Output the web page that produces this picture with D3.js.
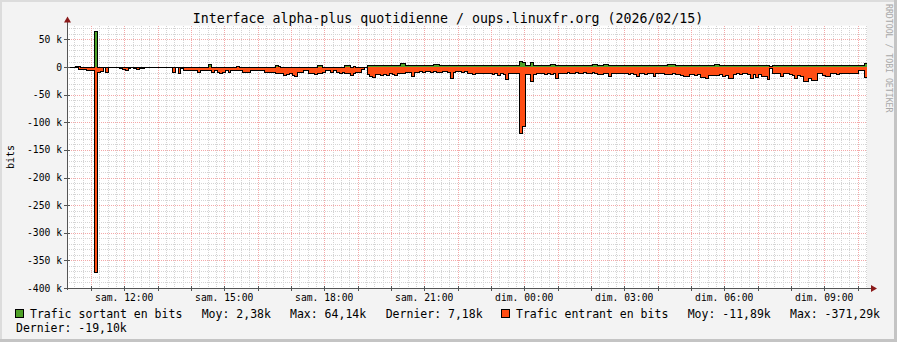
<!DOCTYPE html>
<html><head><meta charset="utf-8">
<script src="https://cdn.jsdelivr.net/npm/d3@7"></script>
<style>body{margin:0;background:#f3f3f3}svg{display:block}</style>
</head><body><svg id="c" width="897" height="342"></svg>
<script>
const title = "Interface alpha-plus quotidienne / oups.linuxfr.org (2026/02/15)";
const yAxisTitle = "bits";
const watermark = "RRDTOOL / TOBI OETIKER";
const startTime = new Date(2026, 1, 14, 10, 17, 0);
const endTime = new Date(2026, 1, 15, 10, 17, 0);
const stepMinutes = 5;
// values in kbit/s, one per 5-minute step
const outValues = [
 0,0,0,1.5,0.5,0,0,0,0,0,64.14,0,
 0,0,0,0,0,0,0,0,0,0,0,0,
 0,0,0,0,0,0,0,0,0,0,0,0,
 0,0,0,0,0,0,0,0,0,0,0,0,
 0,0,0,5,0,0,0,0,0,0,0,0,
 0,1,0,0,0,0,0,0,0,0,0,0,
 0,0,0,2,1,0,0,0,0,0,0,0,
 0,0,0,0,0,0,2,2,0,0,0,0,
 0,0,0,0,3,3,0,1,0,0,0,0,
 2.5,2.5,2,2.5,2.5,3,2.5,2.5,2.5,2.5,2.5,2.5,
 6,7,2.5,2.5,2.5,2.5,2.5,2.5,2.5,2.5,2.5,2.5,
 4,4,2.5,2.5,2.5,3.5,3.5,2.5,2.5,2.5,2.5,2.5,
 2.5,2.5,2.5,2.5,2.5,2.5,2.5,2.5,2.5,2.5,2.5,2.5,
 2.5,2.5,2.5,2.5,3.5,3.5,3.5,10,9,2.5,2.5,8,
 2.5,2.5,2.5,2.5,2.5,2.5,4.5,4.5,2.5,2.5,2.5,2.5,
 2.5,2.5,2.5,2.5,2.5,2.5,2.5,2.5,2.5,4.5,4.5,2.5,
 2.5,4.5,4.5,2.5,2.5,2.5,2.5,2.5,2.5,2.5,2.5,2.5,
 2.5,2.5,2.5,2.5,2.5,2.5,2.5,2.5,2.5,2.5,3,2.5,
 4,4,4,2.5,2.5,2.5,2.5,2.5,2.5,2.5,2.5,2.5,
 2.5,2.5,2.5,2.5,2.5,4,4,2.5,2.5,2.5,2.5,2.5,
 2.5,2.5,2.5,2.5,2.5,2.5,2.5,2.5,2.5,2.5,2.5,2.5,
 2.5,1,2.5,2.5,2.5,2.5,2.5,2.5,2.5,2.5,2.5,2.5,
 2.5,2.5,2.5,2.5,2.5,2.5,2.5,2.5,2.5,2.5,2.5,2.5,
 2.5,2.5,2.5,2.5,2.5,2.5,2.5,2.5,2.5,2.5,2.5,7.18
];
const inValues = [
 0,-0.5,0,-1.5,-4,-5,-5,-6,-7,-7,-371.29,-9,
 -8,0,-9,0,0,0,0,-3,-4,-6,-3,0,
 -2,-4,-2,-2,-1,0,0,-1,0,0,0,-1,
 -1,-1,-10,-1,-12,-3,-6,-6,-6,-7,-6,-9,
 -6,-7,-7,-7,-9,-7,-10,-12,-9,-7,-9,-6,
 -6,-6,-6,-9,-9,-10,-7,-6,-6,-6,-7,-10,
 -10,-10,-10,-11,-12,-12,-15,-14,-11,-16,-18,-10,
 -10,-6,-6,-12,-12,-14,-12,-11,-9,-7,-7,-9,
 -7,-9,-11,-10,-11,-11,-16,-11,-9,-10,-4,-1,
 -14,-17,-19,-13,-13,-15,-13,-16,-12,-13,-15,-12,
 -12,-11,-10,-9,-17,-10,-9,-8,-9,-8,-8,-9,
 -8,-9,-10,-8,-8,-9,-20,-9,-8,-8,-9,-8,
 -11,-12,-14,-12,-11,-11,-12,-11,-12,-14,-12,-15,
 -12,-13,-23,-12,-12,-12,-11,-120,-108,-14,-13,-27,
 -13,-12,-12,-11,-13,-12,-14,-12,-21,-11,-11,-12,
 -10,-11,-12,-10,-11,-12,-10,-11,-12,-10,-12,-14,
 -14,-12,-11,-17,-12,-11,-12,-11,-12,-11,-13,-12,
 -13,-18,-12,-11,-13,-12,-12,-17,-12,-11,-12,-13,
 -14,-13,-12,-13,-14,-15,-18,-18,-14,-13,-15,-14,
 -19,-19,-20,-16,-15,-16,-16,-14,-17,-16,-20,-20,
 -13,-12,-13,-12,-12,-13,-20,-13,-19,-14,-18,-17,
 -23,-3,-11,-11,-12,-17,-12,-11,-14,-16,-20,-15,
 -18,-27,-27,-20,-25,-25,-11,-11,-16,-17,-17,-12,
 -12,-13,-11,-12,-12,-11,-11,-12,-11,-7,-7,-19.1
];
const yTicks = [50, 0, -50, -100, -150, -200, -250, -300, -350, -400];
const yTickLabels = ["50 k", "0", "-50 k", "-100 k", "-150 k", "-200 k", "-250 k", "-300 k", "-350 k", "-400 k"];
const xTickTimes = [
 new Date(2026,1,14,12), new Date(2026,1,14,15), new Date(2026,1,14,18), new Date(2026,1,14,21),
 new Date(2026,1,15,0), new Date(2026,1,15,3), new Date(2026,1,15,6), new Date(2026,1,15,9)];
const xTickLabels = ["sam. 12:00", "sam. 15:00", "sam. 18:00", "sam. 21:00", "dim. 00:00", "dim. 03:00", "dim. 06:00", "dim. 09:00"];
const seriesNames = ["Trafic sortant en bits", "Trafic entrant en bits"];
const seriesColors = ["#4fa128", "#ff4d14"];
const seriesStats = [["Moy: 2,38k", "Max: 64,14k", "Dernier: 7,18k"], ["Moy: -11,89k", "Max: -371,29k", "Dernier: -19,10k"]];

const W = 897, H = 342;
const L = 67, R = 867, T = 25.6, B = 288;
const svg = d3.select("#c");
const FONT = "DejaVu Sans Mono";

// background and borders
svg.append("rect").attr("width", W).attr("height", H).attr("fill", "#f3f3f3");
svg.append("rect").attr("x", 0).attr("y", 0).attr("width", W).attr("height", 2).attr("fill", "#dcdcdc");
svg.append("rect").attr("x", 0).attr("y", 0).attr("width", 2).attr("height", H).attr("fill", "#dcdcdc");
svg.append("rect").attr("x", 0).attr("y", H - 3).attr("width", W).attr("height", 3).attr("fill", "#c4c4c4");
svg.append("rect").attr("x", W - 3).attr("y", 0).attr("width", 3).attr("height", H).attr("fill", "#c4c4c4");

const x = d3.scaleTime().domain([startTime, endTime]).range([L, R]);
const y = d3.scaleLinear().domain([-400, 75]).range([B, T]);

svg.append("rect").attr("x", L).attr("y", T).attr("width", R - L).attr("height", B - T).attr("fill", "#ffffff");

const g = svg.append("g").attr("shape-rendering", "crispEdges");
// minor grid
const minorY = d3.range(-400, 71, 10).filter(v => v % 50 !== 0);
g.selectAll(".hmin").data(minorY).enter().append("line")
  .attr("x1", L).attr("x2", R).attr("y1", d => Math.round(y(d)) + 0.5).attr("y2", d => Math.round(y(d)) + 0.5)
  .attr("stroke", "#d4d4d4").attr("stroke-dasharray", "1,1");
const minorX = d3.timeMinute.every(15).range(startTime, endTime).filter(d => d.getMinutes() !== 0);
g.selectAll(".vmin").data(minorX).enter().append("line")
  .attr("y1", T).attr("y2", B).attr("x1", d => Math.round(x(d)) + 0.5).attr("x2", d => Math.round(x(d)) + 0.5)
  .attr("stroke", "#d4d4d4").attr("stroke-dasharray", "1,1");
// major grid
const majorX = d3.timeHour.every(1).range(startTime, endTime);
g.selectAll(".vmaj").data(majorX).enter().append("line")
  .attr("y1", T).attr("y2", B + 2).attr("x1", d => Math.round(x(d)) + 0.5).attr("x2", d => Math.round(x(d)) + 0.5)
  .attr("stroke", "#f4a8a8").attr("stroke-dasharray", "1,1");
g.selectAll(".hmaj").data(yTicks).enter().append("line")
  .attr("x1", L - 2).attr("x2", R).attr("y1", d => Math.round(y(d)) + 0.5).attr("y2", d => Math.round(y(d)) + 0.5)
  .attr("stroke", "#f4a8a8").attr("stroke-dasharray", "1,1");

// data
const times = outValues.map((_, i) => new Date(+startTime + i * stepMinutes * 60000));
function pts(vals) {
  const p = vals.map((v, i) => [times[i], v]);
  p.push([endTime, vals[vals.length - 1]]);
  return p;
}
const area = d3.area().curve(d3.curveStepAfter).x(d => x(d[0])).y0(y(0)).y1(d => y(d[1]));
const line = d3.line().curve(d3.curveStepAfter).x(d => x(d[0])).y(d => y(d[1]));
const dg = svg.append("g").attr("shape-rendering", "crispEdges");
dg.append("path").attr("d", area(pts(outValues))).attr("fill", seriesColors[0]);
dg.append("path").attr("d", area(pts(inValues))).attr("fill", seriesColors[1]);
dg.append("path").attr("d", line(pts(outValues))).attr("fill", "none").attr("stroke", "#000").attr("stroke-width", 1);
dg.append("path").attr("d", line(pts(inValues))).attr("fill", "none").attr("stroke", "#000").attr("stroke-width", 1);

// axes
const ax = svg.append("g").attr("shape-rendering", "crispEdges");
ax.append("line").attr("x1", L + 0.5).attr("x2", L + 0.5).attr("y1", B + 2).attr("y2", T - 4).attr("stroke", "#555");
ax.append("line").attr("x1", L - 2).attr("x2", R + 4).attr("y1", B + 0.5).attr("y2", B + 0.5).attr("stroke", "#555");
ax.selectAll(".yt").data(yTicks).enter().append("line")
  .attr("x1", L - 3).attr("x2", L + 3).attr("y1", d => Math.round(y(d)) + 0.5).attr("y2", d => Math.round(y(d)) + 0.5).attr("stroke", "#555");
ax.selectAll(".xt").data(majorX).enter().append("line")
  .attr("y1", B - 2).attr("y2", B + 3).attr("x1", d => Math.round(x(d)) + 0.5).attr("x2", d => Math.round(x(d)) + 0.5).attr("stroke", "#555");
// arrows
svg.append("path").attr("d", `M${L - 3},${T - 3} L${L + 4},${T - 3} L${L + 0.5},${T - 9} Z`).attr("fill", "#8b1a1a");
svg.append("path").attr("d", `M${R + 4},${B - 3} L${R + 4},${B + 4} L${R + 10},${B + 0.5} Z`).attr("fill", "#8b1a1a");

// tick labels
svg.selectAll(".yl").data(yTicks).enter().append("text")
  .attr("x", 62).attr("y", d => y(d) + 3.5).attr("text-anchor", "end")
  .attr("font-family", FONT).attr("font-size", "9.7px").attr("fill", "#000")
  .text((d, i) => yTickLabels[i]);
svg.selectAll(".xl").data(xTickTimes).enter().append("text")
  .attr("x", d => x(d)).attr("y", 301).attr("text-anchor", "middle")
  .attr("font-family", FONT).attr("font-size", "9.7px").attr("fill", "#000")
  .text((d, i) => xTickLabels[i]);

// titles
svg.append("text").attr("x", 448).attr("y", 22.5).attr("text-anchor", "middle")
  .attr("font-family", FONT).attr("font-size", "13.25px").attr("fill", "#000").text(title);
svg.append("text").attr("transform", "translate(14,157) rotate(-90)").attr("text-anchor", "middle")
  .attr("font-family", FONT).attr("font-size", "10px").attr("fill", "#000").text(yAxisTitle);
svg.append("text").attr("transform", "translate(885.5,4) rotate(90)").attr("text-anchor", "start")
  .attr("font-family", FONT).attr("font-size", "8.2px").attr("fill", "#a8a8a8").text(watermark);

// legend
const legendRows = [
  {box: 15.5, name: 30, stats: [201.7, 290, 385.7], y: 318},
  {box: 501.5, name: 516, stats: [687.7, 790, 16], y: 318}
];
legendRows.forEach((r, k) => {
  svg.append("rect").attr("x", r.box).attr("y", 309.5).attr("width", 8).attr("height", 8)
    .attr("fill", seriesColors[k]).attr("stroke", "#000").attr("stroke-width", 1).attr("shape-rendering", "crispEdges");
  svg.append("text").attr("x", r.name).attr("y", r.y).attr("font-family", FONT).attr("font-size", "11.5px").attr("fill", "#000").text(seriesNames[k]);
  seriesStats[k].forEach((s, j) => {
    const yy = (k === 1 && j === 2) ? 332 : r.y;
    svg.append("text").attr("x", r.stats[j]).attr("y", yy).attr("font-family", FONT).attr("font-size", "11.5px").attr("fill", "#000").text(s);
  });
});
</script></body></html>
